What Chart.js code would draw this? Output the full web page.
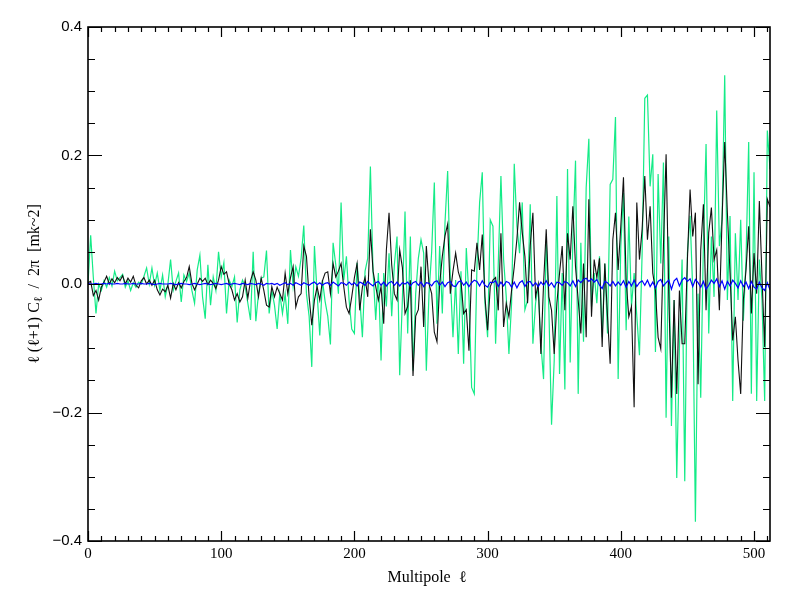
<!DOCTYPE html>
<html><head><meta charset="utf-8">
<script src="https://cdn.jsdelivr.net/npm/chart.js@4.4.1/dist/chart.umd.min.js"></script>
<style>html,body{margin:0;padding:0;background:#fff;}#c{display:block;}</style>
</head><body>
<canvas id="c" width="796" height="597"></canvas>
<script>
// Multipole sampling step (ell = index * ellStep)
const ellStep = 2;

const green = [
 0.0, 0.076, 0.01, -0.046, 0.0, -0.01, 0.005, -0.005, 0.01, -0.003,
 0.02, 0.005, 0.01, 0.015, -0.005, 0.005, -0.01, 0.002, -0.005, 0.003,
 0.0, 0.012, 0.025, 0.0, 0.025, -0.002, 0.017, -0.01, 0.014, -0.02,
 0.0, 0.038, -0.01, 0.004, 0.017, -0.028, 0.014, 0.004, 0.017, -0.01,
 -0.03, 0.022, 0.045, -0.02, -0.054, 0.03, -0.033, 0.011, -0.01, 0.05,
 0.011, 0.033, -0.046, 0.006, -0.004, 0.011, -0.06, -0.009, 0.006, -0.004,
 -0.03, -0.056, 0.05, -0.058, -0.015, 0.009, 0.011, 0.052, -0.046, -0.01,
 -0.033, -0.07, -0.015, -0.046, -0.015, -0.062, 0.053, -0.004, 0.027, 0.012,
 0.04, 0.091, -0.015, -0.05, -0.129, 0.059, -0.015, -0.08, 0.006, -0.027,
 -0.05, -0.094, 0.064, 0.03, -0.015, 0.127, 0.006, 0.043, -0.025, -0.07,
 -0.077, 0.033, -0.02, -0.083, 0.02, 0.04, 0.183, 0.02, -0.056, 0.017,
 -0.119, 0.017, -0.035, 0.048, -0.05, 0.03, 0.074, -0.142, -0.025, 0.113,
 -0.077, 0.074, -0.135, -0.015, 0.04, 0.069, 0.048, -0.135, -0.015, 0.05,
 0.158, -0.062, 0.059, -0.046, 0.095, 0.176, 0.01, -0.083, 0.006, -0.109,
 0.02, -0.124, 0.056, -0.02, -0.161, -0.171, 0.027, 0.127, 0.174, -0.03,
 -0.083, 0.1, 0.09, -0.093, 0.032, 0.168, 0.038, -0.02, -0.109, -0.03,
 0.187, 0.09, 0.048, 0.127, -0.04, -0.025, 0.124, -0.093, -0.03, -0.004,
 -0.093, -0.148, 0.069, -0.04, -0.219, -0.119, 0.137, -0.14, 0.017, -0.164,
 0.179, -0.122, 0.069, 0.192, -0.171, 0.064, -0.09, 0.15, 0.226, -0.035,
 0.017, -0.03, 0.043, -0.083, 0.032, -0.077, 0.155, 0.163, 0.26, -0.148,
 0.059, 0.142, -0.072, 0.105, -0.035, 0.017, -0.05, -0.111, 0.048, 0.289,
 0.294, 0.152, 0.202, -0.106, 0.171, 0.032, 0.189, -0.208, 0.074, -0.221,
 -0.025, -0.302, -0.1, 0.038, -0.307, 0.048, 0.106, -0.01, -0.37, -0.015,
 -0.177, 0.064, 0.218, -0.077, 0.074, -0.02, 0.27, 0.059, 0.1, 0.325,
 -0.025, 0.106, -0.182, 0.079, -0.025, 0.1, -0.057, 0.038, 0.221, -0.171,
 0.174, -0.182, 0.038, -0.025, -0.182, 0.239, 0.179
];

const black = [
 0.002, 0.004, -0.018, -0.01, -0.025, -0.005, 0.003, 0.012, 0.0, 0.008,
 0.002, 0.01, 0.005, 0.013, 0.0, 0.009, 0.003, 0.012, -0.002, -0.006,
 0.005, 0.01, 0.0, 0.006, -0.002, 0.006, -0.009, -0.017, -0.008, -0.012,
 -0.002, -0.022, 0.001, -0.009, 0.002, -0.006, 0.004, 0.01, 0.027, 0.001,
 -0.009, 0.0, 0.009, 0.004, 0.009, -0.001, 0.006, 0.001, -0.007, 0.006,
 0.027, 0.015, 0.019, 0.0, -0.009, -0.025, -0.015, -0.028, -0.02, 0.006,
 -0.022, 0.005, 0.019, 0.006, -0.02, 0.009, -0.01, -0.033, -0.036, -0.004,
 -0.02, -0.005, -0.015, -0.025, 0.017, -0.015, 0.01, 0.027, -0.036, -0.02,
 -0.015, 0.059, 0.043, -0.02, -0.064, -0.025, -0.004, -0.025, 0.005, 0.017,
 0.019, -0.015, 0.032, 0.011, 0.02, 0.032, -0.004, -0.036, -0.046, -0.02,
 0.01, 0.032, -0.041, -0.005, 0.01, -0.02, 0.085, 0.02, -0.004, -0.025,
 -0.004, -0.062, 0.053, 0.111, 0.03, -0.015, -0.025, 0.053, 0.026, -0.046,
 -0.035, 0.006, -0.143, -0.05, -0.04, 0.027, -0.067, 0.059, 0.0, -0.015,
 -0.075, -0.09, 0.0, 0.043, 0.075, 0.093, -0.015, 0.02, 0.048, 0.019,
 0.005, -0.046, -0.04, -0.104, 0.022, 0.02, 0.064, 0.022, 0.077, -0.02,
 -0.072, -0.004, 0.006, 0.01, -0.041, 0.079, -0.067, -0.03, -0.051, -0.01,
 0.027, 0.07, 0.127, 0.08, 0.043, -0.03, 0.06, 0.111, -0.02, 0.0,
 -0.109, 0.0, 0.085, -0.02, -0.041, -0.109, -0.03, 0.017, 0.059, -0.041,
 0.079, 0.038, 0.121, 0.027, -0.025, -0.077, 0.032, -0.083, 0.132, -0.051,
 0.038, 0.01, 0.04, -0.098, 0.032, -0.05, -0.124, 0.069, 0.111, 0.022,
 0.09, 0.166, 0.006, -0.051, -0.035, -0.192, 0.127, 0.038, 0.085, 0.168,
 0.069, 0.121, 0.017, -0.01, -0.083, -0.101, 0.059, 0.202, -0.015, -0.177,
 -0.025, -0.171, -0.01, -0.093, -0.093, 0.038, 0.147, 0.074, 0.111, -0.156,
 0.053, 0.124, -0.041, 0.08, 0.119, 0.038, 0.053, -0.041, 0.1, 0.221,
 0.111, 0.017, -0.088, -0.051, -0.119, -0.171, -0.025, 0.022, 0.09, -0.046,
 0.048, -0.015, 0.129, 0.011, -0.098, 0.132, 0.12
];

const blue = [
 0.001, 0.0, 0.0, 0.001, 0.0, 0.0, 0.001, 0.0, 0.001, 0.0,
 0.0, 0.001, 0.0, 0.0, 0.001, 0.0, 0.0, 0.001, 0.0, 0.0,
 0.001, 0.0, 0.0, 0.001, 0.0, -0.001, 0.0, 0.001, 0.0, 0.0,
 0.0, 0.001, 0.0, -0.001, 0.0, 0.001, 0.0, 0.0, -0.001, 0.0,
 0.001, 0.0, -0.001, 0.0, 0.001, 0.0, -0.001, 0.0, 0.001, 0.0,
 -0.001, 0.0, 0.001, -0.001, 0.0, 0.001, 0.0, -0.001, 0.001, 0.0,
 -0.001, 0.001, 0.0, -0.001, 0.001, 0.0, -0.002, 0.001, 0.0, 0.001,
 -0.001, 0.001, -0.002, 0.0, 0.002, -0.001, 0.001, -0.002, 0.002, 0.0,
 -0.002, 0.002, 0.0, -0.002, 0.001, 0.003, -0.001, 0.002, -0.002, 0.001,
 0.002, -0.002, 0.003, 0.0, -0.003, 0.002, 0.001, -0.002, 0.003, -0.001,
 0.002, -0.003, 0.003, 0.001, -0.002, 0.004, 0.0, -0.003, 0.002, 0.004,
 -0.002, 0.003, -0.003, 0.002, 0.004, -0.002, 0.003, -0.003, 0.002, 0.0,
 0.003, -0.003, 0.002, 0.004, -0.002, 0.003, -0.004, 0.002, 0.001, -0.003,
 0.003, 0.005, -0.002, 0.003, -0.004, 0.002, 0.004, -0.003, -0.004, 0.003,
 0.005, -0.002, 0.003, -0.004, 0.002, 0.006, 0.004, -0.003, 0.005, -0.002,
 -0.005, 0.003, 0.002, 0.005, -0.004, 0.003, -0.003, 0.004, 0.002, -0.005,
 0.003, -0.006, 0.002, 0.005, -0.004, 0.003, 0.004, -0.003, 0.002, -0.004,
 0.003, -0.002, 0.005, -0.003, 0.002, -0.005, 0.003, 0.002, -0.002, 0.004,
 0.002, -0.003, 0.005, -0.004, 0.006, 0.002, 0.007, 0.009, 0.004, 0.008,
 0.003, 0.007, -0.002, -0.007, 0.004, 0.002, -0.003, 0.004, -0.003, 0.003,
 -0.002, 0.005, -0.005, 0.004, -0.003, 0.006, -0.004, 0.002, 0.005, -0.002,
 0.006, -0.004, 0.003, -0.006, 0.004, 0.007, -0.003, 0.002, 0.006, -0.008,
 0.005, 0.009, -0.003, 0.006, 0.01, 0.004, 0.008, -0.004, 0.007, 0.002,
 -0.005, 0.004, -0.008, -0.002, 0.006, 0.001, 0.008, -0.004, 0.005, -0.008,
 0.004, -0.003, 0.006, 0.001, -0.006, 0.005, -0.004, 0.003, -0.007, 0.004,
 -0.005, -0.008, 0.003, -0.006, -0.01, 0.002, -0.009
];

const ells = green.map((_, i) => i * ellStep);

const xTickValues = [0, 100, 200, 300, 400, 500];
const xTickLabels = ['0', '100', '200', '300', '400', '500'];
const yTickValues = [-0.4, -0.2, 0, 0.2, 0.4];
const yTickLabels = ['\u22120.4', '\u22120.2', '0.0', '0.2', '0.4'];
const xMinorStep = 10;
const yMinorStep = 0.05;
const xTitle = 'Multipole  \u2113';

const toPts = arr => arr.map((v, i) => ({ x: ells[i], y: v }));

const framePlugin = {
  id: 'frame',
  afterDraw(chart) {
    const { ctx, chartArea: a, scales } = chart;
    const xs = scales.x, ys = scales.y;
    ctx.save();
    ctx.strokeStyle = '#000';
    ctx.lineWidth = 1.6;
    ctx.strokeRect(a.left, a.top, a.right - a.left, a.bottom - a.top);
    ctx.lineWidth = 1.2;
    ctx.beginPath();
    for (let v = xs.min; v <= xs.max + 1e-9; v += xMinorStep) {
      const px = Math.round(xs.getPixelForValue(v)) + 0.5;
      const major = xTickValues.includes(Math.round(v));
      const len = major ? 10 : 5;
      ctx.moveTo(px, a.bottom); ctx.lineTo(px, a.bottom - len);
      ctx.moveTo(px, a.top); ctx.lineTo(px, a.top + len);
    }
    for (let k = 0; ; k++) {
      const v = ys.min + k * yMinorStep;
      if (v > ys.max + 1e-9) break;
      const py = Math.round(ys.getPixelForValue(v)) + 0.5;
      const major = k % 4 === 0;
      const len = major ? 14 : 7;
      ctx.moveTo(a.left, py); ctx.lineTo(a.left + len, py);
      ctx.moveTo(a.right, py); ctx.lineTo(a.right - len, py);
    }
    ctx.stroke();

    ctx.fillStyle = '#000';
    ctx.font = '16px "Liberation Serif", "DejaVu Serif", serif';
    ctx.textAlign = 'center';
    ctx.textBaseline = 'middle';
    ctx.fillText(xTitle, (a.left + a.right) / 2 - 2, 578);

    ctx.translate(35, (a.top + a.bottom) / 2);
    ctx.rotate(-Math.PI / 2);
    const f = '16px "Liberation Serif", "DejaVu Serif", serif';
    const fs = '12px "Liberation Serif", "DejaVu Serif", serif';
    const parts = [
      { t: '\u2113 (\u2113+1) C', f: f, dy: 0 },
      { t: '\u2113', f: fs, dy: 4 },
      { t: '  /  2\u03c0  [mk~2]', f: f, dy: 0 }
    ];
    let total = 0;
    parts.forEach(p => { ctx.font = p.f; p.w = ctx.measureText(p.t).width; total += p.w; });
    let x = -total / 2;
    ctx.textAlign = 'left';
    parts.forEach(p => { ctx.font = p.f; ctx.fillText(p.t, x, p.dy); x += p.w; });
    ctx.restore();
  }
};

new Chart(document.getElementById('c'), {
  type: 'line',
  data: {
    datasets: [
      { label: 'green', data: toPts(green), borderColor: 'rgb(20,235,135)', borderWidth: 1.2, pointRadius: 0, tension: 0, order: 2 },
      { label: 'black', data: toPts(black), borderColor: '#111', borderWidth: 1.1, pointRadius: 0, tension: 0, order: 1 },
      { label: 'blue', data: toPts(blue), borderColor: '#0000ff', borderWidth: 1.2, pointRadius: 0, tension: 0, order: 0 }
    ]
  },
  options: {
    responsive: false,
    animation: false,
    devicePixelRatio: 1,
    layout: { padding: { left: 0, right: 26, top: 27, bottom: 0 } },
    plugins: { legend: { display: false }, tooltip: { enabled: false } },
    scales: {
      x: {
        type: 'linear', min: 0, max: 512,
        grid: { display: false, drawTicks: false },
        border: { display: false },
        afterBuildTicks: s => { s.ticks = xTickValues.map(v => ({ value: v })); },
        afterFit: s => { s.height = 56; },
        ticks: {
          padding: 4, color: '#000', maxRotation: 0, autoSkip: false,
          font: { family: '"Liberation Serif", "DejaVu Serif", serif', size: 15 },
          callback: (v) => { const i = xTickValues.indexOf(v); return i >= 0 ? xTickLabels[i] : ''; }
        }
      },
      y: {
        type: 'linear', min: -0.4, max: 0.4,
        grid: { display: false, drawTicks: false },
        border: { display: false },
        afterBuildTicks: s => { s.ticks = yTickValues.map(v => ({ value: v })); },
        afterFit: s => { s.width = 88; },
        ticks: {
          padding: 6, color: '#000', autoSkip: false,
          font: { family: '"Liberation Sans", Arial, sans-serif', size: 15 },
          callback: (v) => { const i = yTickValues.findIndex(t => Math.abs(t - v) < 1e-9); return i >= 0 ? yTickLabels[i] : ''; }
        }
      }
    }
  },
  plugins: [framePlugin]
});
</script>
</body></html>
